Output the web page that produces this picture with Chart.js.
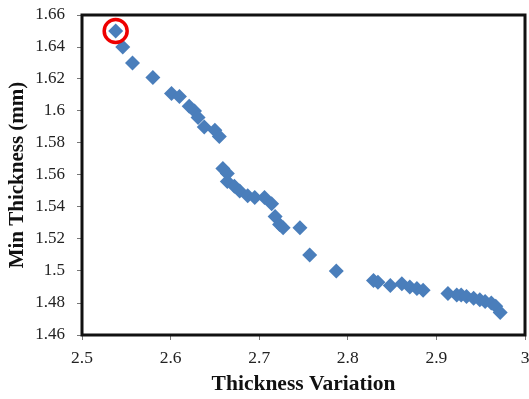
<!DOCTYPE html>
<html>
<head>
<meta charset="utf-8">
<script src="https://cdn.jsdelivr.net/npm/chart.js@4"></script>
<style>
  html, body { margin: 0; padding: 0; background: #fff; }
  #wrap { width: 529px; height: 399px; }
</style>
</head>
<body>
<div id="wrap"><canvas id="chart" width="529" height="399"></canvas></div>
<script>
// Thickness variation vs minimum thickness
const thicknessVariation = [
    2.538, 2.546, 2.557, 2.580, 2.601, 2.610, 2.621, 2.627, 2.631, 2.638,
    2.650, 2.655, 2.659, 2.664, 2.664, 2.672, 2.678, 2.687, 2.695, 2.706,
    2.714, 2.718, 2.723, 2.727, 2.746, 2.757, 2.787, 2.829, 2.834, 2.848,
    2.861, 2.870, 2.878, 2.885, 2.913, 2.923, 2.928, 2.934, 2.942, 2.949,
    2.955, 2.962, 2.967, 2.972
];
const minThickness = [
    1.650, 1.640, 1.630, 1.621, 1.611, 1.609, 1.603, 1.600, 1.596, 1.590,
    1.588, 1.584, 1.564, 1.561, 1.556, 1.553, 1.550, 1.547, 1.546, 1.546,
    1.542, 1.534, 1.529, 1.527, 1.527, 1.510, 1.500, 1.494, 1.493, 1.491,
    1.492, 1.490, 1.489, 1.488, 1.486, 1.485, 1.485, 1.484, 1.483, 1.482,
    1.481, 1.480, 1.478, 1.474
];
// the circled point
const highlightX = [2.538];
const highlightY = [1.650];

const xTicks = [2.5, 2.6, 2.7, 2.8, 2.9, 3.0];
const yTicks = [1.46, 1.48, 1.5, 1.52, 1.54, 1.56, 1.58, 1.6, 1.62, 1.64, 1.66];

const serif = "'Liberation Serif', 'DejaVu Serif', serif";

// thick black frame around the plot area
const framePlugin = {
    id: 'frame',
    afterDatasetsDraw(chart) {
        const a = chart.chartArea;
        const ctx = chart.ctx;
        ctx.save();
        ctx.strokeStyle = '#111';
        ctx.lineWidth = 3;
        ctx.strokeRect(a.left, a.top, a.right - a.left, a.bottom - a.top);
        ctx.restore();
    }
};

const points = thicknessVariation.map((x, i) => ({ x: x, y: minThickness[i] }));
const circled = highlightX.map((x, i) => ({ x: x, y: highlightY[i] }));

new Chart(document.getElementById('chart'), {
    type: 'scatter',
    data: {
        datasets: [{
            data: points,
            pointStyle: 'rectRot',
            pointRadius: 7.5,
            pointBackgroundColor: '#4a7ebb',
            pointBorderColor: '#4a7ebb',
            pointBorderWidth: 0,
            order: 2
        }, {
            data: circled,
            pointStyle: 'circle',
            pointRadius: 11.5,
            pointBackgroundColor: 'rgba(0,0,0,0)',
            pointBorderColor: '#ee0000',
            pointBorderWidth: 3.5,
            order: 1
        }]
    },
    options: {
        responsive: false,
        animation: false,
        layout: { autoPadding: false, padding: { top: 15, right: 4, left: 0, bottom: 0 } },
        plugins: { legend: { display: false }, tooltip: { enabled: false } },
        scales: {
            x: {
                type: 'linear',
                min: 2.5,
                max: 3.0,
                afterBuildTicks: axis => { axis.ticks = xTicks.map(v => ({ value: v })); },
                afterFit: axis => {
                    axis.height = 64;
                    axis.paddingLeft = 0;
                    axis.paddingRight = 0;
                },
                grid: { drawOnChartArea: false, tickLength: 5, color: '#777' },
                border: { display: false },
                ticks: {
                    color: '#222',
                    padding: 8,
                    font: { family: serif, size: 17.5 },
                    callback: v => String(Number(v.toFixed(2)))
                },
                title: {
                    display: true,
                    text: 'Thickness Variation',
                    color: '#111',
                    padding: { top: 0, bottom: 2 },
                    font: { family: serif, size: 21.5, weight: 'bold' }
                }
            },
            y: {
                type: 'linear',
                min: 1.46,
                max: 1.66,
                afterBuildTicks: axis => { axis.ticks = yTicks.map(v => ({ value: v })); },
                afterFit: axis => {
                    axis.width = 82;
                    axis.paddingTop = 0;
                    axis.paddingBottom = 0;
                },
                grid: { drawOnChartArea: false, tickLength: 5, color: '#777' },
                border: { display: false },
                ticks: {
                    color: '#222',
                    padding: 12,
                    font: { family: serif, size: 17 },
                    callback: v => String(Number(v.toFixed(2)))
                },
                title: {
                    display: true,
                    text: 'Min Thickness (mm)',
                    color: '#111',
                    padding: { top: 5, bottom: 0 },
                    font: { family: serif, size: 21, weight: 'bold' }
                }
            }
        }
    },
    plugins: [framePlugin]
});
</script>
</body>
</html>
